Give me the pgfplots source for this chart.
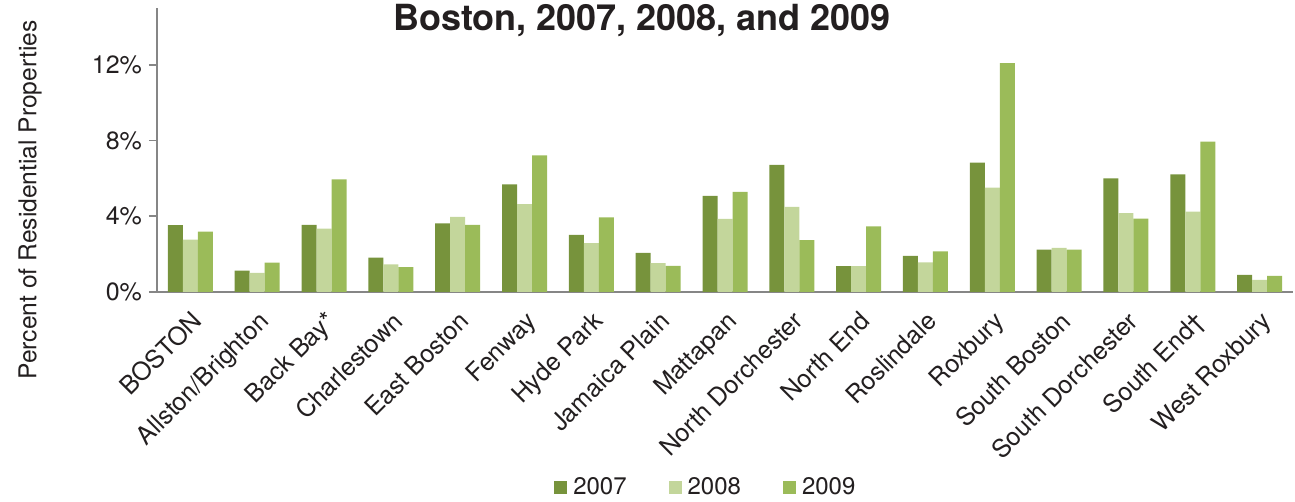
\documentclass[border=0pt]{standalone}
\usepackage{fontspec}
\setmainfont{TeX Gyre Heros}
\usepackage{pgfplots}
\usepackage{pgfplotstable}
\pgfplotsset{compat=1.18}

\definecolor{c07}{HTML}{77933C}
\definecolor{c08}{HTML}{C3D69B}
\definecolor{c09}{HTML}{9BBB59}
\definecolor{axgray}{HTML}{868686}
\definecolor{txt}{HTML}{231F20}

% share of residential properties, by neighborhood
\pgfplotstableread{
x  y07  y08  y09
0  3.53 2.77 3.19
1  1.13 1.01 1.55
2  3.55 3.35 5.95
3  1.82 1.46 1.31
4  3.62 3.97 3.55
5  5.68 4.64 7.22
6  3.02 2.58 3.94
7  2.06 1.52 1.38
8  5.08 3.86 5.29
9  6.72 4.50 2.74
10 1.36 1.36 3.46
11 1.91 1.57 2.15
12 6.83 5.51 12.09
13 2.24 2.33 2.24
14 6.00 4.16 3.88
15 6.21 4.25 7.94
16 0.90 0.64 0.85
}\data

\begin{document}
\begin{tikzpicture}
\useasboundingbox (-78.5pt,-105pt) rectangle (569pt,146pt);
\begin{axis}[
at={(0,0)}, anchor=south west,
scale only axis,
width=568pt, height=142pt,
xmin=-0.5, xmax=16.5,
ymin=0, ymax=15,
ybar=0pt, bar width=7.5pt,
axis x line*=bottom,
axis y line*=left,
axis line style={axgray, line width=0.9pt, -},
xtick={0,...,16},
xticklabels={BOSTON, Allston/Brighton, Back Bay*, Charlestown, East Boston, Fenway, Hyde Park, Jamaica Plain, Mattapan, North Dorchester, North End, Roslindale, Roxbury, South Boston, South Dorchester, South End\textdagger, West Roxbury},
x tick style={draw=none},
xticklabel style={rotate=45, anchor=north east, font=\fontsize{12.5}{14}\selectfont, text=txt},
ytick={0,4,8,12},
tick align=outside,
y tick style={axgray, line width=0.9pt},
major tick length=4pt,
yticklabel={\pgfmathprintnumber{\tick}\%},
yticklabel style={font=\fontsize{12.5}{14}\selectfont, text=txt},
/pgf/number format/assume math mode=true,
ylabel={Percent of Residential Properties},
ylabel style={at={(rel axis cs:-0.1118,0.324)}, anchor=center, font=\fontsize{12.3}{14}\selectfont, text=txt},
title={Boston, 2007, 2008, and 2009},
title style={at={(rel axis cs:0.427,0.880)}, anchor=base, font=\fontsize{18}{20}\selectfont\bfseries, text=txt},
legend columns=3,
legend style={draw=none, at={(rel axis cs:0.484,-0.69)}, anchor=center, font=\fontsize{12}{14}\selectfont, text=txt,
  /tikz/every even column/.append style={column sep=19pt},
  /tikz/every odd column/.append style={column sep=1pt}},
legend image code/.code={\fill[#1] (0pt,-3.25pt) rectangle (6.5pt,3.25pt);},
]
\addplot[fill=c07, draw=none] table[x=x, y=y07] {\data};
\addplot[fill=c08, draw=none] table[x=x, y=y08] {\data};
\addplot[fill=c09, draw=none] table[x=x, y=y09] {\data};
\legend{2007, 2008, 2009}
\end{axis}
\end{tikzpicture}
\end{document}
